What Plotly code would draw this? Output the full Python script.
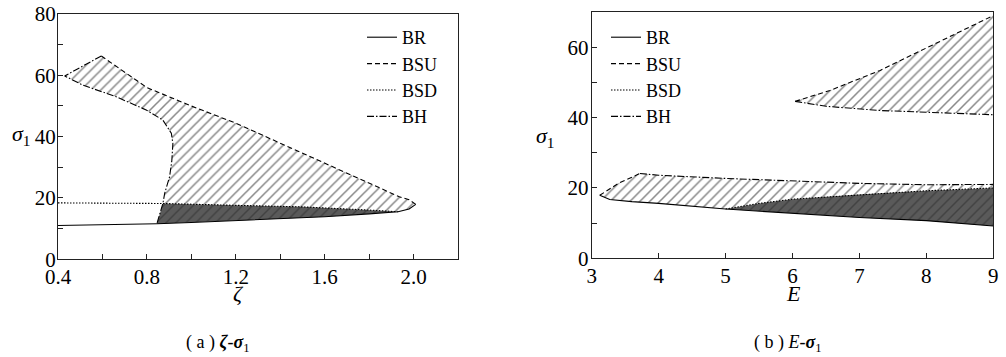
import plotly.graph_objects as go

# ---------------- Panel (a): zeta - sigma1 ----------------
zeta_BR = [0.40, 0.60, 0.845, 1.00, 1.20, 1.40, 1.60, 1.80, 1.93, 1.98, 2.01]
sigA_BR = [11.0, 11.2, 11.6, 12.0, 12.6, 13.2, 13.9, 14.8, 15.5, 16.4, 17.9]

zeta_BSU = [2.01, 1.98, 1.936, 1.80, 1.60, 1.40, 1.20, 1.00, 0.80, 0.595]
sigA_BSU = [17.9, 19.4, 20.4, 24.8, 31.3, 37.8, 44.4, 50.0, 56.0, 66.3]

zeta_BSD = [0.40, 0.872, 1.20, 1.50, 1.79, 1.93]
sigA_BSD = [18.4, 18.2, 17.6, 17.1, 16.1, 15.5]

zeta_BH = [0.595, 0.43, 0.512, 0.662, 0.797, 0.872, 0.91, 0.917, 0.912, 0.902, 0.88, 0.872, 0.845]
sigA_BH = [66.3, 59.8, 56.8, 53.0, 48.7, 45.4, 41.1, 37.8, 32.0, 26.9, 21.5, 18.2, 11.6]

# ---------------- Panel (b): E - sigma1 ----------------
E_BR = [3.12, 3.27, 3.60, 4.00, 5.00, 6.00, 7.00, 8.00, 9.00]
sigB_BR = [17.9, 16.7, 16.1, 15.6, 14.0, 12.8, 11.6, 10.7, 9.2]

E_BSU_low = [3.12, 3.20, 3.40, 3.72]
sigB_BSU_low = [17.9, 18.9, 21.3, 24.1]

E_BH_low = [3.72, 4.00, 5.00, 6.00, 7.00, 8.00, 9.00]
sigB_BH_low = [24.1, 23.6, 22.7, 21.9, 21.3, 20.9, 21.0]

E_BSD = [5.00, 5.50, 6.00, 7.00, 8.00, 9.00]
sigB_BSD = [14.0, 15.6, 16.8, 18.1, 19.2, 20.0]

E_BSU_up = [6.04, 6.56, 7.31, 8.30, 9.00]
sigB_BSU_up = [44.6, 47.7, 53.4, 62.4, 69.0]

E_BH_up = [6.04, 6.50, 7.31, 8.30, 9.00]
sigB_BH_up = [44.6, 43.2, 42.0, 41.4, 40.8]

dashes = {"BR": "solid", "BSU": "5px,3px", "BSD": "1.5px,1.5px", "BH": "7px,2px,1.5px,2px"}

FONT = "Liberation Serif"
W, H = 1006, 357


def PX(px):
    return px / W


def PY(py):
    return 1 - py / H


light_pat = dict(shape="/", bgcolor="white", fgcolor="#111", size=7, solidity=0.22)
dark_pat = dict(shape="/", bgcolor="#5a5a5a", fgcolor="#2a2a2a", size=7, solidity=0.22)

fig = go.Figure()


def fill(xs, ys, pat, xa, ya):
    fig.add_trace(go.Scatter(x=xs, y=ys, mode="lines", fill="toself", fillpattern=pat,
                             fillcolor=pat["bgcolor"], line=dict(width=0),
                             showlegend=False, hoverinfo="skip", xaxis=xa, yaxis=ya))


def line(xs, ys, name, xa, ya, legend, show):
    fig.add_trace(go.Scatter(x=xs, y=ys, mode="lines", name=name,
                             line=dict(color="black", width=1.1, dash=dashes[name]),
                             showlegend=show, legend=legend, xaxis=xa, yaxis=ya))


# ---- panel (a) fills
light_a_x = zeta_BH[:12] + zeta_BSD[1:] + zeta_BR[8:] + zeta_BSU
light_a_y = sigA_BH[:12] + sigA_BSD[1:] + sigA_BR[8:] + sigA_BSU
fill(light_a_x, light_a_y, light_pat, "x", "y")
dark_a_x = zeta_BR[2:9] + zeta_BSD[1:][::-1]
dark_a_y = sigA_BR[2:9] + sigA_BSD[1:][::-1]
fill(dark_a_x, dark_a_y, dark_pat, "x", "y")

line(zeta_BR, sigA_BR, "BR", "x", "y", "legend", True)
line(zeta_BSU, sigA_BSU, "BSU", "x", "y", "legend", True)
line(zeta_BSD, sigA_BSD, "BSD", "x", "y", "legend", True)
line(zeta_BH, sigA_BH, "BH", "x", "y", "legend", True)

# ---- panel (b) fills
light_b_x = E_BR[:5] + E_BSD[1:] + E_BH_low[::-1] + E_BSU_low[::-1]
light_b_y = sigB_BR[:5] + sigB_BSD[1:] + sigB_BH_low[::-1] + sigB_BSU_low[::-1]
fill(light_b_x, light_b_y, light_pat, "x2", "y2")
dark_b_x = E_BR[4:] + E_BSD[::-1]
dark_b_y = sigB_BR[4:] + sigB_BSD[::-1]
fill(dark_b_x, dark_b_y, dark_pat, "x2", "y2")
up_b_x = E_BSU_up + E_BH_up[::-1]
up_b_y = sigB_BSU_up + sigB_BH_up[::-1]
fill(up_b_x, up_b_y, light_pat, "x2", "y2")

line(E_BR, sigB_BR, "BR", "x2", "y2", "legend2", True)
line(E_BSU_low, sigB_BSU_low, "BSU", "x2", "y2", "legend2", True)
line(E_BSD, sigB_BSD, "BSD", "x2", "y2", "legend2", True)
line(E_BH_low, sigB_BH_low, "BH", "x2", "y2", "legend2", True)
line(E_BSU_up, sigB_BSU_up, "BSU", "x2", "y2", "legend2", False)
line(E_BH_up, sigB_BH_up, "BH", "x2", "y2", "legend2", False)

axis_common = dict(showgrid=False, zeroline=False, showline=True, linecolor="#222",
                   linewidth=1.2, mirror=True, ticks="inside", ticklen=5, tickcolor="#222",
                   automargin=False,
                   tickfont=dict(family=FONT, size=21, color="black"))
minor_y = dict(dtick=10, ticks="inside", ticklen=5, tickcolor="#222")

fig.update_layout(
    width=W, height=H, margin=dict(l=0, r=0, t=0, b=0, autoexpand=False),
    paper_bgcolor="white", plot_bgcolor="white",
    font=dict(family=FONT, color="black"),
    xaxis=dict(domain=[PX(58), PX(458)], range=[0.4, 2.2], tick0=0.4, dtick=0.4,
               tickformat=".1f", minor=dict(dtick=0.2, ticks="inside", ticklen=5, tickcolor="#222"),
               ticklabelstandoff=-2, anchor="y", **axis_common),
    yaxis=dict(domain=[PY(259.3), PY(14)], range=[0, 80], dtick=20, minor=minor_y,
               ticklabelstandoff=-3, anchor="x", **axis_common),
    xaxis2=dict(domain=[PX(591.7), PX(993.3)], range=[3, 9], dtick=1,
                ticklabelstandoff=-2, anchor="y2", **axis_common),
    yaxis2=dict(domain=[PY(258.3), PY(12)], range=[0, 70], dtick=20, minor=minor_y,
                ticklabelstandoff=-2, anchor="x2", **axis_common),
    legend=dict(x=PX(362), y=PY(19), xanchor="left", yanchor="top", bgcolor="rgba(0,0,0,0)",
                font=dict(family=FONT, size=18), itemwidth=30, tracegroupgap=0),
    legend2=dict(x=PX(606), y=PY(19), xanchor="left", yanchor="top", bgcolor="rgba(0,0,0,0)",
                 font=dict(family=FONT, size=18), itemwidth=30, tracegroupgap=0),
    showlegend=True,
)

ann = [
    dict(x=PX(21), y=PY(135), text="<i>σ</i><sub>1</sub>"),
    dict(x=PX(545), y=PY(137), text="<i>σ</i><sub>1</sub>"),
    dict(x=PX(238), y=PY(293), text="<i>ζ</i>"),
    dict(x=PX(793), y=PY(293), text="<i>E</i>"),
]
for a in ann:
    fig.add_annotation(xref="paper", yref="paper", showarrow=False, xanchor="center",
                       yanchor="middle", font=dict(family=FONT, size=22, color="black"), **a)

fig.add_annotation(xref="paper", yref="paper", x=PX(217), y=PY(343), showarrow=False,
                   xanchor="center", yanchor="middle",
                   text="( a ) <b><i>ζ</i></b>-<b><i>σ</i></b><sub>1</sub>",
                   font=dict(family=FONT, size=18, color="black"))
fig.add_annotation(xref="paper", yref="paper", x=PX(788), y=PY(343), showarrow=False,
                   xanchor="center", yanchor="middle",
                   text="( b ) <i>E</i>-<b><i>σ</i></b><sub>1</sub>",
                   font=dict(family=FONT, size=18, color="black"))

# remove the default page margin so the figure sits at the window's top-left corner
fig.write_html("out.html", config={"displayModeBar": False},
               post_script="document.body.style.margin='0px';")
